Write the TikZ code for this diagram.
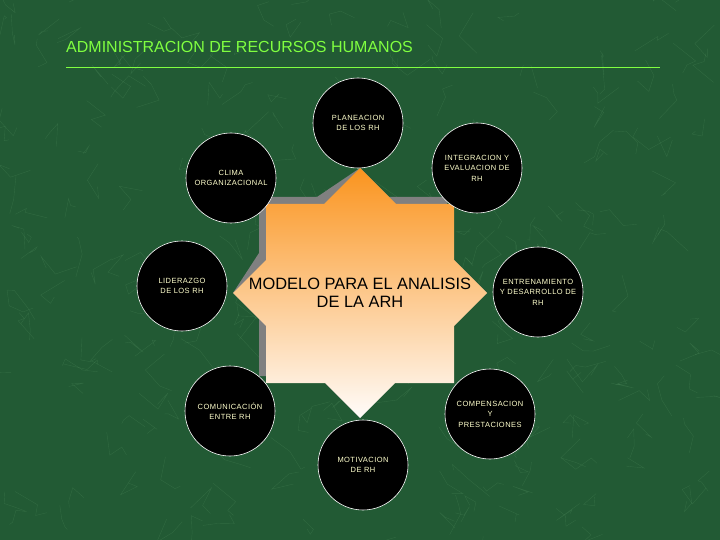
\documentclass[tikz,border=0pt]{standalone}
\usepackage{fontspec}
\setmainfont{Liberation Sans}
\newfontfamily\spaced[LetterSpace=6]{Liberation Sans}

\definecolor{marble}{RGB}{34,90,52}
\definecolor{vein}{RGB}{125,190,135}
\definecolor{titlegreen}{RGB}{128,255,64}
\definecolor{starorange}{RGB}{250,148,30}
\definecolor{starpeach}{RGB}{255,208,178}
\definecolor{starwhite}{RGB}{255,252,250}
\definecolor{cream}{RGB}{255,255,205}

\tikzset{
  topic/.style={circle, draw=white, line width=0.6pt, fill=black, minimum size=90pt,
    inner sep=0pt, text=cream, align=center, font=\spaced\fontsize{7.5}{10.5}\selectfont}
}

\begin{document}
\begin{tikzpicture}[x=1pt,y=-1pt]
        \fill[marble] (0,0) rectangle (720,540);
        \useasboundingbox (0,0) rectangle (720,540);

        % marble veins
        \pgfmathsetseed{11}
        \foreach \k in {1,...,260}{
          \pgfmathsetmacro\vx{rnd*720}
          \pgfmathsetmacro\vy{rnd*540}
          \draw[vein, opacity=0.16, line width=0.4pt] (\vx,\vy) -- ++(rand*24,rand*24) -- ++(rand*18,rand*18) -- ++(rand*12,rand*12);
        }

        \node[anchor=base west, text=titlegreen, font=\fontsize{16}{19}\selectfont, inner sep=0pt] (title) at (66,53) {ADMINISTRACION DE RECURSOS HUMANOS};
        \coordinate (L1) at (66,67);
        \coordinate (L2) at (660,67);
        \draw[titlegreen, line width=0.7pt] (L1)--(L2);

        \coordinate (C) at (360,293);
        \coordinate (T) at (360,168);
        \coordinate (R) at (487,293);
        \coordinate (B) at (360,418);
        \coordinate (W) at (233,293);

        \begin{scope}[shift={(-7,-7)}]
          \fill[gray] (T)--(396,204)--(454,204)--(454,260)--(R)--(454,326)--(454,383)--(395,383)--(B)
            --(325,383)--(266,383)--(266,326)--(W)--(266,260)--(266,204)--(324,204)--cycle;
        \end{scope}
        \shade[top color=starorange, middle color=starpeach, bottom color=starwhite]
            (T)--(396,204)--(454,204)--(454,260)--(R)--(454,326)--(454,383)--(395,383)--(B)
            --(325,383)--(266,383)--(266,326)--(W)--(266,260)--(266,204)--(324,204)--cycle;

        \node[align=center, font=\fontsize{16.4}{17.5}\selectfont] (model) at (C) {MODELO PARA EL ANALISIS\\DE LA ARH};

        \node[topic] (plan) at (358,123) {PLANEACION\\DE LOS RH};
        \node[topic] (clima) at (231,178) {CLIMA\\ORGANIZACIONAL};
        \node[topic] (integ) at (477,168) {INTEGRACION Y\\EVALUACION DE\\RH};
        \node[topic] (lider) at (182,286) {LIDERAZGO\\DE LOS RH};
        \node[topic] (entren) at (538,292) {ENTRENAMIENTO\\Y DESARROLLO DE\\RH};
        \node[topic] (comun) at (230,411) {COMUNICACIÓN\\ENTRE RH};
        \node[topic] (compen) at (490,414) {COMPENSACION\\Y\\PRESTACIONES};
        \node[topic] (motiv) at (363,465) {MOTIVACION\\DE RH};

    \end{tikzpicture}
\end{document}
